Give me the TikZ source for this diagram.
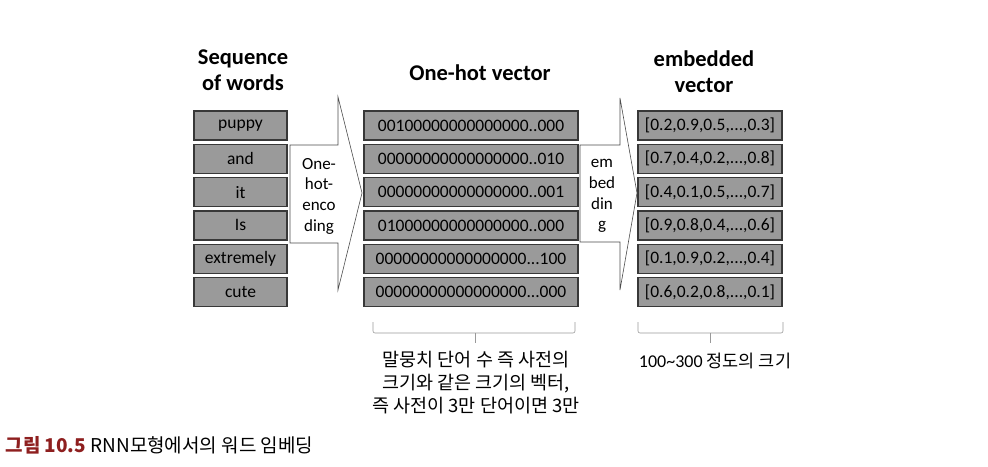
\documentclass[tikz,border=0pt]{standalone}
\usepackage{fontspec}
\setmainfont{Carlito}
\newfontfamily\kr{Noto Sans CJK KR}
\usetikzlibrary{positioning,calc}
\definecolor{boxfill}{HTML}{9A9A9A}
\definecolor{boxline}{HTML}{383838}
\definecolor{capred}{HTML}{8E1F1F}
\newcommand{\tdots}{...}

\begin{document}
\begin{tikzpicture}[x=1pt,y=-1pt,
	cell/.style={draw=boxline,line width=1.3pt,fill=boxfill,minimum height=29pt,inner sep=0pt,font=\fontsize{17.5}{19}\selectfont,text=black},
	title/.style={font=\fontsize{22.5}{26}\selectfont\bfseries,align=center},
	bigarrow/.style={draw=black!70,fill=white,line width=0.6pt},
	arrowtext/.style={align=center,font=\fontsize{17}{20.7}\selectfont},
	bracket/.style={draw=black!40,line width=0.6pt,rounded corners=2pt}]

\useasboundingbox (0,0) rectangle (988,466);

\node [title] (tw) at (243,70) {Sequence\\of words};
\node [title] (th) at (480,73) {One-hot vector};
\node [title] (te) at (704,72) {embedded\\vector};

\foreach \i/\w/\h/\e in {0/puppy/00100000000000000..000/{[0.2,0.9,0.5,\tdots,0.3]},
	1/and/00000000000000000..010/{[0.7,0.4,0.2,\tdots,0.8]},
	2/it/00000000000000000..001/{[0.4,0.1,0.5,\tdots,0.7]},
	3/Is/01000000000000000..000/{[0.9,0.8,0.4,\tdots,0.6]},
	4/extremely/00000000000000000\tdots100/{[0.1,0.9,0.2,\tdots,0.4]},
	5/cute/00000000000000000\tdots000/{[0.6,0.2,0.8,\tdots,0.1]}} {
	\node [cell,minimum width=93pt]  at (240.5,125.5+33.3*\i) (w\i) {\w};
	\node [cell,minimum width=214pt] at (471,125.5+33.3*\i)   (h\i) {\h};
	\node [cell,minimum width=144pt] at (710,125.5+33.3*\i)   (e\i) {\e};
}

%%%%%%%%%%%%%%%%%%%%%%%%%%%%%%%%%%%%%%%%%%%%%%%%%%%%%%%%%%%%%%%%

\draw [bigarrow] (290,145) -- (338,145) -- (338,97) -- (362,193) -- (338,290) -- (338,243) -- (290,243) -- cycle;
\node [arrowtext] (oh) at (319,196) {One-\\hot-\\enco\\ding};

\draw [bigarrow] (580,145) -- (620,145) -- (620,98) -- (637,193) -- (620,290) -- (620,242) -- (580,242) -- cycle;
\node [arrowtext] (em) at (602,196) {em\\bed\\din\\g};

%%%%%%%%%%%%%%%%%%%%%%%%%%%%%%%%%%%%%%%%%%%%%%%%%%%%%%%%%%%%%%%%

\draw [bracket] (373,322) -- (373,333) -- (575,333) -- (575,322);
\draw [bracket] (475,333) -- (475,343);
\draw [bracket] (638,322) -- (638,333) -- (783,333) -- (783,322);
\draw [bracket] (710,333) -- (710,343);

\node [align=center,font=\kr\fontsize{18.5}{23}\selectfont] (nh) at (476,383) {말뭉치 단어 수 즉 사전의\\크기와 같은 크기의 벡터,\\즉 사전이 3만 단어이면 3만};
\node [font=\fontsize{18}{20}\selectfont] (ne) at (715,361) {100\textasciitilde300 {\kr\fontsize{17.5}{20}\selectfont 정도의 크기}};

\node [anchor=west,font=\kr\fontsize{19}{22}\selectfont] (cap) at (2,445) {{\bfseries\color{capred}그림 10.5} RNN모형에서의 워드 임베딩};

\end{tikzpicture}
\end{document}
